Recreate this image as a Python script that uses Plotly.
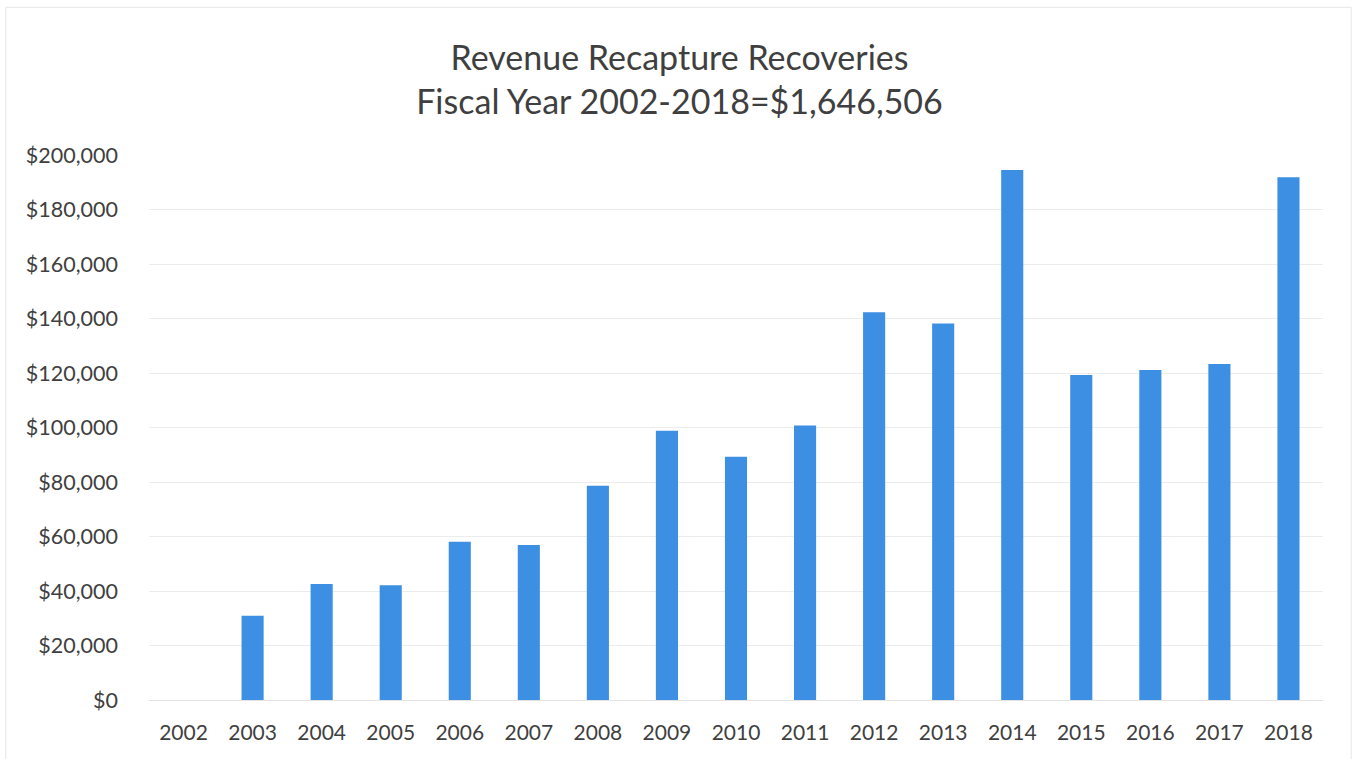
import plotly.graph_objects as go

# Fiscal-year recoveries (USD)
years = [str(y) for y in range(2002, 2019)]
recoveries = [0, 30900, 42600, 42100, 58100, 56900, 78600, 98800, 89300,
              100700, 142300, 138200, 194500, 119300, 121100, 123300, 191800]

y_ticks = list(range(0, 200001, 20000))
y_tick_labels = ["$0" if v == 0 else f"${v:,}" for v in y_ticks]

title_lines = ["Revenue Recapture Recoveries", "Fiscal Year 2002-2018=$1,646,506"]

text_color = "#3f3f3f"
bar_color = "#3C8FE2"
font_family = "Lato, 'Open Sans', sans-serif"

fig = go.Figure(
    go.Bar(
        x=years,
        y=recoveries,
        marker=dict(color=bar_color, line=dict(width=0)),
        width=0.32,
    )
)

fig.update_layout(
    width=1359,
    height=759,
    paper_bgcolor="white",
    plot_bgcolor="white",
    margin=dict(l=149, r=36, t=155, b=59),
    showlegend=False,
    font=dict(family=font_family, color=text_color, size=21),
    title=dict(
        text="<br>".join(title_lines),
        x=0.5,
        xanchor="center",
        y=0.908,
        yanchor="middle",
        font=dict(family=font_family, size=34, color=text_color),
    ),
)

fig.update_xaxes(
    type="category",
    showgrid=False,
    showline=True,
    linecolor="#e4e4e4",
    linewidth=1,
    ticks="",
    tickfont=dict(size=21, color=text_color),
    ticklabelstandoff=14,
)

fig.update_yaxes(
    range=[0, 200000],
    tickvals=y_ticks,
    ticktext=y_tick_labels,
    showgrid=True,
    gridcolor="#ececec",
    gridwidth=1,
    zeroline=False,
    showline=False,
    ticks="",
    tickfont=dict(size=21.5, color=text_color),
    ticklabelstandoff=30,
)

# faint chart-area frame
fig.add_shape(
    type="rect",
    xref="paper", yref="paper",
    x0=-0.122, x1=1.024, y0=-0.113, y1=1.271,
    line=dict(color="#e6e6e6", width=1),
    fillcolor="rgba(0,0,0,0)",
    layer="below",
)

fig.write_html("out.html")
